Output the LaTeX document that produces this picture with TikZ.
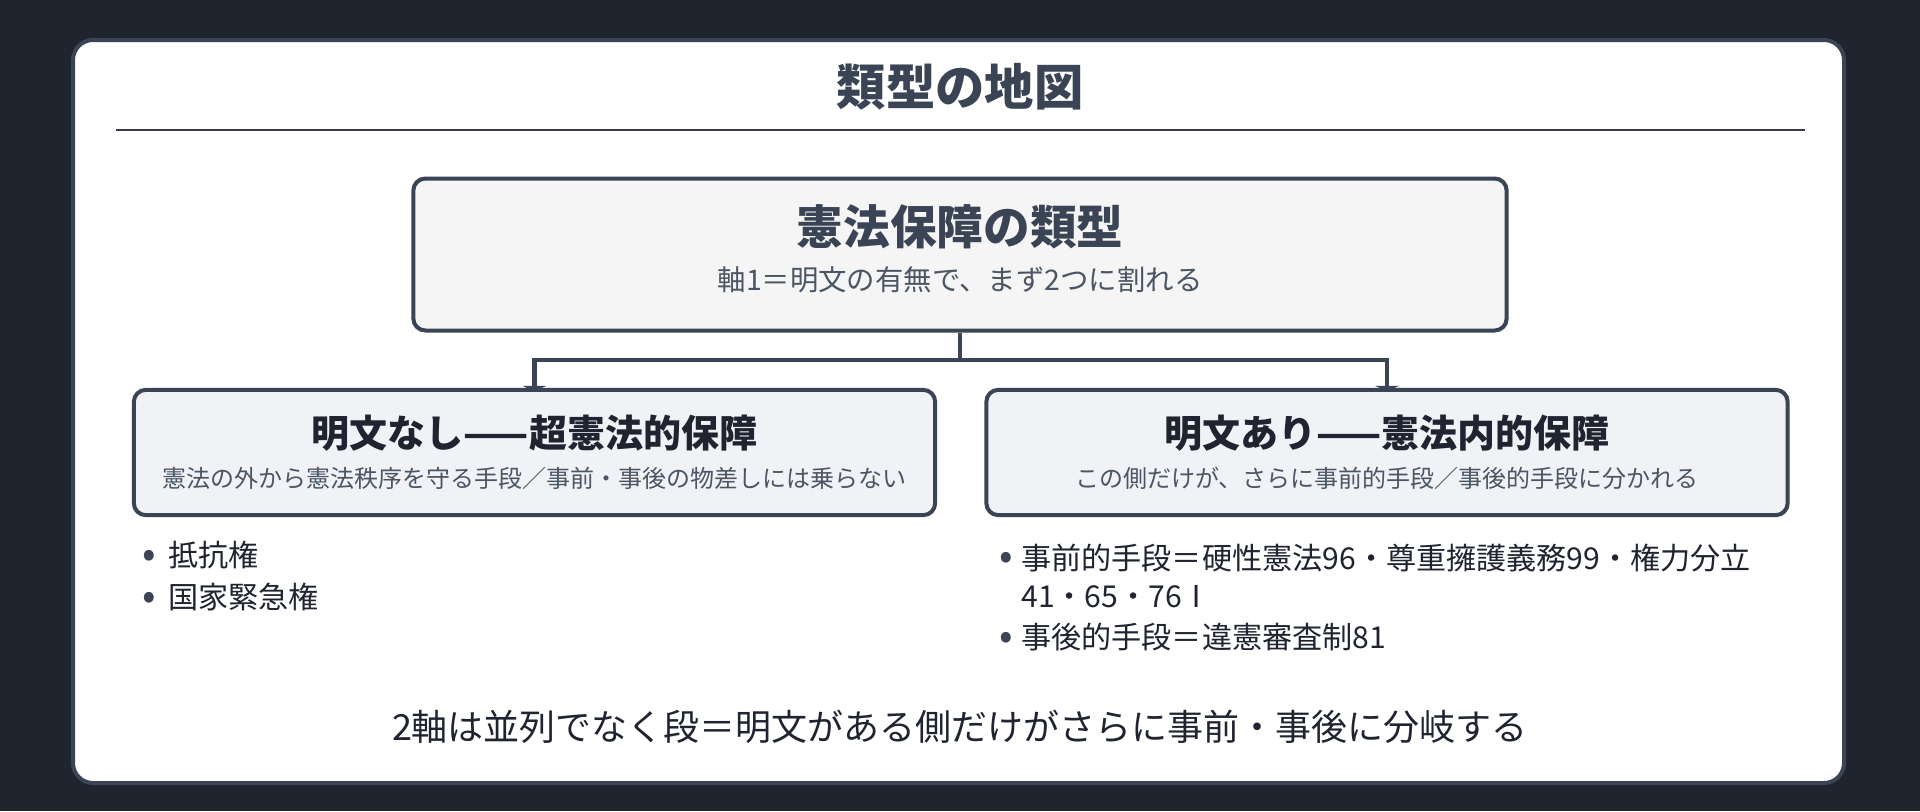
\documentclass[tikz,border=0pt]{standalone}
\usepackage{fontspec}
\setmainfont{Noto Sans CJK JP}
\usetikzlibrary{arrows.meta,backgrounds}

\definecolor{night}{HTML}{1E252F}
\definecolor{slate}{HTML}{3A4454}
\definecolor{ink}{HTML}{1F2430}
\definecolor{graytext}{HTML}{4B5563}
\definecolor{topfill}{HTML}{F5F5F5}
\definecolor{subfill}{HTML}{F0F2F5}

\tikzset{
	card/.style={draw=slate, fill=white, line width=3pt, rounded corners=15pt},
	topbox/.style={draw=slate, fill=topfill, line width=3pt, rounded corners=9pt, minimum width=820pt, minimum height=114pt},
	subbox/.style={draw=slate, fill=subfill, line width=3pt, rounded corners=9pt, minimum width=601pt, minimum height=94pt},
	link/.style={slate, line width=3.4pt},
	arrow/.style={link, -{Triangle[width=18pt 0 0,length=4pt 0 0]}, shorten >=-2.5pt},
	bullet/.style={text=ink, font=\fontsize{22.6}{28.5}\selectfont, inner sep=0pt},
	dot/.style={text=slate, font=\fontsize{30}{30}\selectfont, inner sep=0pt, yshift=-3pt},
	item/.style={bullet, anchor=west, align=left}
}

\begin{document}
\begin{tikzpicture}[x=0.75pt,y=-0.75pt]
\begin{scope}[on background layer]
\fill[night] (0,0) rectangle (1920,811);
\draw[card] (73,40) rectangle (1844,783);
\end{scope}

\node (title) at (960,87) [text=slate, font=\fontsize{37}{44}\selectfont\bfseries] {類型の地図};
\draw[ink!90, line width=2.2pt] (116,130) -- (1805,130);

\node (top) at (960,254.5) [topbox] {};
\node (toptitle) at (960,227) [text=slate, font=\fontsize{35}{42}\selectfont\bfseries] {憲法保障の類型};
\node (topsub) at (960,280) [text=graytext, font=\fontsize{21.3}{25}\selectfont] {軸1＝明文の有無で、まず2つに割れる};

\node (left) at (534.5,452.5) [subbox] {};
\node (lefttitle) at (534.5,433) [text=ink, font=\fontsize{28.5}{34}\selectfont\bfseries] {明文なし——超憲法的保障};
\node (leftsub) at (534.5,478) [text=graytext, font=\fontsize{18}{22}\selectfont] {憲法の外から憲法秩序を守る手段／事前・事後の物差しには乗らない};

\node (right) at (1387,452.5) [subbox] {};
\node (righttitle) at (1387,433) [text=ink, font=\fontsize{28.5}{34}\selectfont\bfseries] {明文あり——憲法内的保障};
\node (rightsub) at (1387,478) [text=graytext, font=\fontsize{18}{22}\selectfont] {この側だけが、さらに事前的手段／事後的手段に分かれる};

% connectors, behind the boxes
\coordinate (split) at (960,360);
\begin{scope}[on background layer]
\draw[link] (top.south) -- (split);
\draw[arrow] (split) -| (left.north);
\draw[arrow] (split) -| (right.north);
\end{scope}

% left list
\node (ldot1) at (149,555) [dot] {•};
\node (litem1) at (168,555) [item] {抵抗権};
\node (ldot2) at (149,597) [dot] {•};
\node (litem2) at (168,597) [item] {国家緊急権};

% right list
\node (rdot1) at (1006,557) [dot] {•};
\node (ritem1) at (1021,576) [item] {事前的手段＝硬性憲法96・尊重擁護義務99・権力分立\\41・65・76Ⅰ};
\node (rdot2) at (1006,637) [dot] {•};
\node (ritem2) at (1021,637) [item] {事後的手段＝違憲審査制81};

\node (foot) at (960,727) [text=ink, font=\fontsize{27}{32}\selectfont] {2軸は並列でなく段＝明文がある側だけがさらに事前・事後に分岐する};

\end{tikzpicture}
\end{document}
